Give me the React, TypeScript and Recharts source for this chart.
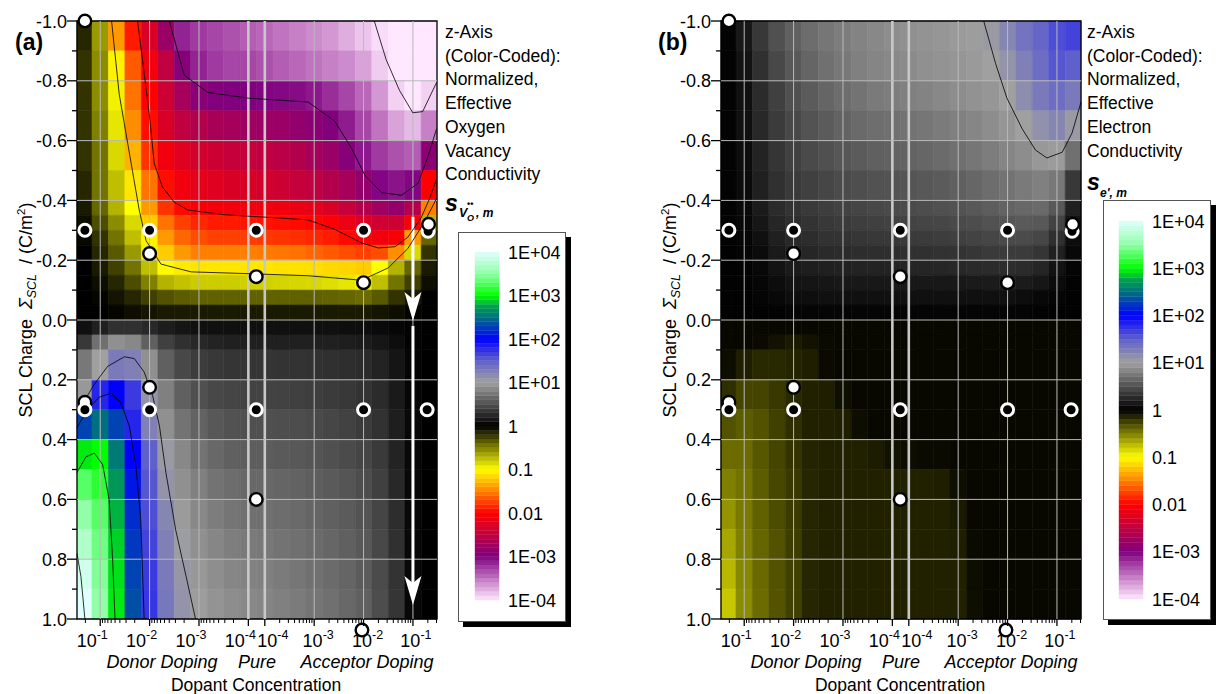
import React from 'react';
import { ScatterChart, Scatter, XAxis, YAxis, ReferenceArea, ReferenceLine, ReferenceDot } from 'recharts';

const FONT = '"Liberation Sans", Arial, Helvetica, sans-serif';

// Dopant axis in decades: donor 10^-1 at 0 … 10^-4 at 3, undoped gap, acceptor 10^-4 at 3.333 … 10^-1 at 6.333
const U_MIN = -0.47;
const U_MAX = 6.82;
const GAP_LO = 3;
const GAP_HI = 3.333;

const decadeTicks = [0, 1, 2, 3, 3.333, 4.333, 5.333, 6.333];
const decadeExponents = ['-1', '-2', '-3', '-4', '-4', '-3', '-2', '-1'];
const decadeLabelShift = [-8, -8, -8, -8, 8, 4, 4, 3];

const chargeTicks = [-1, -0.9, -0.8, -0.7, -0.6, -0.5, -0.4, -0.3, -0.2, -0.1, 0, 0.1, 0.2, 0.3, 0.4, 0.5, 0.6, 0.7, 0.8, 0.9, 1];
const chargeGrid = [-0.8, -0.6, -0.4, -0.2, 0, 0.2, 0.4, 0.6, 0.8];

// grid of the colour-coded maps: column centres (dopant decades) and row edges (SCL charge, C/m^2)
const dopantColumns = [-0.333, 0, 0.333, 0.667, 1, 1.333, 1.667, 2, 2.333, 2.667, 3, 3.333, 3.667, 4, 4.333, 4.667, 5, 5.333, 5.667, 6, 6.333, 6.667];
const chargeEdges = [-1, -0.9, -0.8, -0.7, -0.6, -0.5, -0.4, -0.35, -0.3, -0.25, -0.2, -0.15, -0.1, -0.05, 0, 0.05, 0.1, 0.2, 0.3, 0.4, 0.5, 0.6, 0.7, 0.8, 0.9, 1];

// log10 of the normalized effective oxygen vacancy conductivity, one row per charge band
const vacancyLogSigma: number[][] = [
  [-0.15, -0.6, -1.4, -1.9, -2.3, -2.8, -3.15, -3.25, -3.3, -3.35, -3.4, -3.45, -3.5, -3.55, -3.6, -3.65, -3.75, -3.85, -3.95, -4.1, -4.1, -4.1],
  [-0.2, -0.55, -1.05, -1.65, -2.1, -2.5, -2.95, -3.15, -3.25, -3.3, -3.3, -3.35, -3.4, -3.45, -3.5, -3.55, -3.6, -3.7, -3.88, -4.05, -4.1, -4.0],
  [-0.2, -0.55, -0.95, -1.55, -2.0, -2.4, -2.7, -2.92, -2.98, -3.0, -3.0, -3.02, -3.03, -3.05, -3.1, -3.2, -3.3, -3.45, -3.65, -3.9, -4.05, -3.9],
  [-0.2, -0.5, -0.9, -1.45, -1.95, -2.3, -2.5, -2.6, -2.68, -2.72, -2.75, -2.78, -2.8, -2.85, -2.9, -2.98, -3.12, -3.3, -3.5, -3.7, -3.8, -3.55],
  [-0.2, -0.45, -0.85, -1.3, -1.8, -2.1, -2.25, -2.35, -2.4, -2.45, -2.45, -2.5, -2.55, -2.6, -2.7, -2.8, -2.95, -3.1, -3.25, -3.35, -3.4, -2.9],
  [-0.15, -0.45, -0.75, -1.1, -1.55, -1.95, -2.1, -2.2, -2.25, -2.3, -2.3, -2.35, -2.4, -2.45, -2.5, -2.6, -2.7, -2.85, -3.02, -3.08, -3.02, -2.0],
  [-0.1, -0.4, -0.7, -1.0, -1.4, -1.8, -1.97, -2.05, -2.08, -2.1, -2.1, -2.1, -2.12, -2.15, -2.2, -2.3, -2.45, -2.6, -2.75, -2.85, -2.6, -1.5],
  [-0.05, -0.3, -0.55, -0.85, -1.2, -1.55, -1.75, -1.85, -1.9, -1.9, -1.92, -1.93, -1.95, -1.96, -1.98, -2.03, -2.15, -2.28, -2.38, -2.4, -2.05, -0.7],
  [-0.03, -0.2, -0.45, -0.75, -1.05, -1.4, -1.6, -1.7, -1.75, -1.75, -1.76, -1.78, -1.8, -1.82, -1.85, -1.9, -1.97, -2.05, -2.1, -2.05, -1.4, -0.4],
  [0, -0.15, -0.35, -0.6, -0.95, -1.2, -1.4, -1.5, -1.5, -1.5, -1.5, -1.52, -1.54, -1.56, -1.6, -1.65, -1.7, -1.75, -1.7, -1.45, -0.85, -0.2],
  [0, -0.1, -0.25, -0.45, -0.75, -1.02, -1.08, -1.1, -1.1, -1.1, -1.1, -1.1, -1.12, -1.12, -1.13, -1.15, -1.17, -1.2, -1.0, -0.7, -0.4, -0.1],
  [0, -0.05, -0.15, -0.3, -0.5, -0.7, -0.76, -0.8, -0.8, -0.8, -0.82, -0.82, -0.83, -0.84, -0.85, -0.87, -0.9, -0.95, -0.75, -0.45, -0.25, -0.05],
  [0, -0.02, -0.08, -0.15, -0.25, -0.32, -0.36, -0.38, -0.38, -0.38, -0.38, -0.38, -0.38, -0.38, -0.38, -0.39, -0.4, -0.42, -0.35, -0.2, -0.1, 0],
  [0, 0, -0.02, -0.05, -0.08, -0.1, -0.1, -0.1, -0.1, -0.1, -0.1, -0.1, -0.1, -0.1, -0.1, -0.1, -0.1, -0.1, -0.08, -0.05, -0.02, 0],
  [0.1, 0.2, 0.3, 0.3, 0.25, 0.18, 0.13, 0.1, 0.1, 0.1, 0.1, 0.1, 0.1, 0.1, 0.1, 0.1, 0.09, 0.08, 0.06, 0.04, 0.02, 0],
  [0.35, 0.7, 0.9, 0.85, 0.6, 0.4, 0.3, 0.25, 0.22, 0.2, 0.2, 0.2, 0.2, 0.2, 0.2, 0.2, 0.19, 0.17, 0.14, 0.08, 0.02, 0],
  [0.75, 1.0, 1.3, 1.25, 0.9, 0.6, 0.45, 0.38, 0.35, 0.33, 0.33, 0.33, 0.32, 0.32, 0.31, 0.3, 0.29, 0.27, 0.22, 0.13, 0.03, 0],
  [0.95, 1.8, 2.0, 1.7, 1.1, 0.8, 0.6, 0.5, 0.45, 0.43, 0.42, 0.42, 0.41, 0.4, 0.39, 0.37, 0.35, 0.32, 0.27, 0.16, 0.04, 0],
  [2.3, 2.5, 2.3, 1.8, 1.25, 0.9, 0.72, 0.62, 0.55, 0.51, 0.5, 0.5, 0.49, 0.48, 0.46, 0.44, 0.41, 0.37, 0.31, 0.19, 0.05, 0],
  [2.95, 3.0, 2.55, 2.0, 1.5, 1.05, 0.85, 0.72, 0.65, 0.6, 0.58, 0.58, 0.56, 0.55, 0.53, 0.5, 0.47, 0.43, 0.36, 0.22, 0.05, 0],
  [3.3, 3.15, 2.7, 2.1, 1.55, 1.1, 0.9, 0.8, 0.72, 0.68, 0.65, 0.65, 0.63, 0.61, 0.59, 0.56, 0.53, 0.48, 0.4, 0.25, 0.05, 0],
  [3.5, 3.3, 2.8, 2.2, 1.6, 1.2, 0.97, 0.85, 0.78, 0.73, 0.7, 0.7, 0.68, 0.66, 0.63, 0.6, 0.57, 0.52, 0.43, 0.28, 0.05, 0],
  [3.7, 3.38, 2.88, 2.25, 1.65, 1.25, 1.03, 0.9, 0.84, 0.79, 0.76, 0.75, 0.72, 0.7, 0.67, 0.64, 0.6, 0.55, 0.45, 0.3, 0.05, 0],
  [3.9, 3.45, 2.92, 2.3, 1.7, 1.3, 1.08, 0.95, 0.89, 0.84, 0.81, 0.8, 0.77, 0.74, 0.7, 0.67, 0.63, 0.57, 0.47, 0.32, 0.05, 0],
  [4.0, 3.5, 2.95, 2.35, 1.72, 1.32, 1.1, 0.98, 0.92, 0.88, 0.85, 0.83, 0.8, 0.77, 0.73, 0.7, 0.65, 0.6, 0.48, 0.33, 0.05, 0],
];

// log10 of the normalized effective electron conductivity
const electronLogSigma: number[][] = [
  [0.02, 0.15, 0.35, 0.5, 0.6, 0.68, 0.74, 0.78, 0.82, 0.85, 0.88, 0.9, 0.92, 0.94, 0.96, 0.98, 1.05, 1.2, 1.35, 1.45, 1.6, 1.65],
  [0.02, 0.12, 0.3, 0.45, 0.55, 0.63, 0.7, 0.75, 0.8, 0.83, 0.85, 0.87, 0.9, 0.92, 0.94, 0.96, 1.0, 1.1, 1.25, 1.4, 1.55, 1.5],
  [0.02, 0.1, 0.27, 0.4, 0.5, 0.57, 0.63, 0.68, 0.72, 0.76, 0.78, 0.8, 0.82, 0.85, 0.88, 0.91, 0.94, 1.0, 1.15, 1.3, 1.4, 1.3],
  [0.02, 0.1, 0.25, 0.37, 0.45, 0.52, 0.57, 0.62, 0.66, 0.69, 0.7, 0.72, 0.74, 0.77, 0.8, 0.84, 0.88, 0.93, 1.0, 1.12, 1.2, 1.05],
  [0.02, 0.08, 0.22, 0.33, 0.4, 0.46, 0.5, 0.54, 0.57, 0.6, 0.61, 0.62, 0.64, 0.67, 0.7, 0.74, 0.78, 0.83, 0.88, 0.95, 0.97, 0.7],
  [0.02, 0.07, 0.2, 0.3, 0.36, 0.4, 0.44, 0.47, 0.49, 0.51, 0.52, 0.53, 0.55, 0.57, 0.6, 0.64, 0.68, 0.72, 0.76, 0.8, 0.75, 0.35],
  [0.02, 0.06, 0.17, 0.27, 0.32, 0.36, 0.39, 0.41, 0.43, 0.45, 0.46, 0.47, 0.48, 0.5, 0.52, 0.55, 0.58, 0.62, 0.65, 0.66, 0.55, 0.2],
  [0.02, 0.05, 0.14, 0.24, 0.29, 0.32, 0.35, 0.37, 0.39, 0.4, 0.41, 0.42, 0.43, 0.44, 0.46, 0.48, 0.51, 0.54, 0.56, 0.55, 0.42, 0.12],
  [0.02, 0.04, 0.1, 0.2, 0.25, 0.28, 0.31, 0.32, 0.34, 0.35, 0.35, 0.36, 0.37, 0.38, 0.4, 0.42, 0.44, 0.46, 0.47, 0.44, 0.3, 0.08],
  [0.01, 0.03, 0.07, 0.16, 0.21, 0.24, 0.26, 0.27, 0.28, 0.29, 0.29, 0.3, 0.3, 0.31, 0.32, 0.34, 0.36, 0.37, 0.37, 0.33, 0.2, 0.05],
  [0.01, 0.02, 0.05, 0.12, 0.17, 0.19, 0.2, 0.21, 0.22, 0.22, 0.22, 0.23, 0.23, 0.24, 0.25, 0.26, 0.27, 0.28, 0.27, 0.23, 0.12, 0.03],
  [0.01, 0.02, 0.04, 0.08, 0.12, 0.13, 0.14, 0.15, 0.15, 0.15, 0.15, 0.15, 0.15, 0.15, 0.15, 0.16, 0.17, 0.18, 0.17, 0.14, 0.07, 0.02],
  [0.01, 0.01, 0.03, 0.05, 0.08, 0.09, 0.1, 0.1, 0.1, 0.1, 0.1, 0.1, 0.1, 0.1, 0.1, 0.1, 0.1, 0.1, 0.08, 0.05, 0.03, 0.01],
  [0.01, 0.01, 0.01, 0.02, 0.03, 0.03, 0.03, 0.03, 0.03, 0.03, 0.03, 0.03, 0.03, 0.03, 0.03, 0.03, 0.03, 0.03, 0.03, 0.02, 0.01, 0.01],
  [-0.03, -0.03, -0.03, -0.03, -0.03, -0.03, -0.03, -0.03, -0.03, -0.03, -0.03, -0.03, -0.03, -0.03, -0.03, -0.03, -0.03, -0.03, -0.03, -0.03, -0.03, -0.03],
  [-0.03, -0.03, -0.04, -0.07, -0.1, -0.07, -0.04, -0.03, -0.03, -0.03, -0.03, -0.03, -0.03, -0.03, -0.03, -0.03, -0.03, -0.03, -0.03, -0.03, -0.03, -0.03],
  [-0.05, -0.12, -0.16, -0.16, -0.14, -0.12, -0.04, -0.03, -0.03, -0.03, -0.03, -0.03, -0.03, -0.03, -0.03, -0.03, -0.03, -0.03, -0.03, -0.03, -0.03, -0.03],
  [-0.18, -0.27, -0.27, -0.22, -0.16, -0.13, -0.12, -0.06, -0.03, -0.03, -0.03, -0.03, -0.03, -0.03, -0.03, -0.03, -0.03, -0.03, -0.03, -0.03, -0.03, -0.03],
  [-0.32, -0.36, -0.32, -0.25, -0.18, -0.13, -0.13, -0.12, -0.05, -0.03, -0.03, -0.03, -0.03, -0.03, -0.03, -0.03, -0.03, -0.03, -0.03, -0.03, -0.03, -0.03],
  [-0.42, -0.42, -0.34, -0.27, -0.2, -0.14, -0.13, -0.13, -0.13, -0.11, -0.07, -0.05, -0.04, -0.04, -0.03, -0.03, -0.03, -0.03, -0.03, -0.03, -0.03, -0.03],
  [-0.5, -0.45, -0.36, -0.28, -0.22, -0.15, -0.13, -0.13, -0.13, -0.13, -0.13, -0.13, -0.13, -0.12, -0.06, -0.03, -0.03, -0.03, -0.03, -0.03, -0.03, -0.03],
  [-0.58, -0.48, -0.38, -0.3, -0.23, -0.15, -0.13, -0.13, -0.13, -0.13, -0.13, -0.13, -0.13, -0.13, -0.1, -0.03, -0.03, -0.03, -0.03, -0.03, -0.03, -0.03],
  [-0.65, -0.5, -0.4, -0.32, -0.24, -0.15, -0.13, -0.13, -0.13, -0.13, -0.13, -0.13, -0.13, -0.13, -0.12, -0.04, -0.03, -0.03, -0.03, -0.03, -0.03, -0.03],
  [-0.72, -0.53, -0.41, -0.32, -0.25, -0.15, -0.13, -0.13, -0.13, -0.13, -0.13, -0.13, -0.13, -0.13, -0.13, -0.05, -0.03, -0.03, -0.03, -0.03, -0.03, -0.03],
  [-0.78, -0.55, -0.42, -0.33, -0.25, -0.15, -0.13, -0.13, -0.13, -0.13, -0.13, -0.13, -0.13, -0.13, -0.13, -0.06, -0.03, -0.03, -0.03, -0.03, -0.03, -0.03],
];

// iso-lines [decade, charge]
const vacancyIsoM1 = [[0.23, -1.0], [0.385, -0.755], [0.655, -0.497], [0.79, -0.368], [0.93, -0.265], [1.23, -0.187], [1.84, -0.161], [3.0, -0.155], [4.21, -0.148], [5.29, -0.133], [5.83, -0.174], [6.23, -0.239], [6.57, -0.329], [6.81, -0.406]];
const vacancyIsoM2 = [[0.757, -1.0], [0.993, -0.69], [1.095, -0.523], [1.26, -0.445], [1.5, -0.394], [1.77, -0.368], [2.51, -0.352], [3.53, -0.342], [4.21, -0.335], [4.75, -0.303], [5.29, -0.258], [5.63, -0.241], [5.97, -0.245], [6.23, -0.277], [6.5, -0.342], [6.67, -0.406], [6.81, -0.471]];
const vacancyIsoM3 = [[1.4, -1.0], [1.7, -0.819], [2.18, -0.761], [3.0, -0.742], [4.21, -0.729], [4.75, -0.665], [5.09, -0.574], [5.36, -0.484], [5.7, -0.426], [6.1, -0.417], [6.44, -0.458], [6.64, -0.548], [6.81, -0.639]];
const vacancyIsoM4 = [[5.55, -1.0], [5.79, -0.871], [6.06, -0.768], [6.33, -0.693], [6.53, -0.697], [6.81, -0.794]];
const vacancyIsoP1 = [[-0.47, 0.31], [-0.32, 0.27], [-0.12, 0.215], [0.15, 0.155], [0.49, 0.123], [0.69, 0.129], [0.89, 0.174], [1.06, 0.252], [1.2, 0.355], [1.33, 0.51], [1.53, 0.703], [1.74, 0.858], [1.93, 1.0]];
const vacancyIsoP2 = [[-0.47, 0.36], [-0.26, 0.3], [-0.02, 0.258], [0.22, 0.245], [0.42, 0.277], [0.59, 0.355], [0.72, 0.484], [0.82, 0.665], [0.89, 1.0]];
const vacancyIsoP3 = [[-0.47, 0.51], [-0.29, 0.458], [-0.12, 0.445], [0.05, 0.484], [0.18, 0.6], [0.25, 0.794], [0.3, 1.0]];
const vacancyIsoP4 = [[-0.47, 0.781], [-0.39, 0.858], [-0.31, 1.0]];
const electronIsoP1 = [[4.85, -1.0], [5.09, -0.858], [5.32, -0.742], [5.63, -0.639], [5.9, -0.568], [6.13, -0.542], [6.44, -0.561], [6.64, -0.626], [6.82, -0.729]];

// calculated states [decade, charge]
const ringStates = [[-0.31, -0.3], [1.0, -0.3], [3.16, -0.3], [5.333, -0.3], [6.64, -0.297], [-0.31, 0.3], [1.0, 0.3], [3.16, 0.3], [5.333, 0.3], [6.62, 0.3]];
const openStatesBehind = [[-0.31, 0.275]];
const openStates = [[-0.31, -1.0], [1.0, -0.222], [3.16, -0.145], [5.333, -0.125], [6.65, -0.32], [1.0, 0.225], [3.16, 0.6]];
const openStateBelowAxis = [5.3, 1.037];

// path arrows drawn at acceptor 10^-1 in the vacancy map
const arrowRuns = [{ u: 6.333, from: -0.345, to: 0.0 }, { u: 6.333, from: 0.02, to: 0.95 }];

// colour scale: decades of the z value and their labels
const colorTickValues = [-4, -3, -2, -1, 0, 1, 2, 3, 4];
const colorTickLabels = ['1E-04', '1E-03', '0.01', '0.1', '1', '1E+01', '1E+02', '1E+03', '1E+04'];
const COLOR_STEP = 0.1;

const COLOR_STOPS: Array<[number, [number, number, number]]> = [
  [-4, [255, 232, 255]], [-3, [128, 0, 128]], [-2.5, [192, 0, 64]], [-2, [255, 0, 0]], [-1.5, [255, 128, 0]],
  [-1, [255, 255, 0]], [0, [0, 0, 0]], [1, [160, 160, 160]], [1.5, [96, 96, 204]], [2, [0, 0, 255]],
  [2.5, [0, 112, 128]], [2.75, [0, 160, 80]], [3, [0, 255, 0]], [3.5, [144, 255, 168]], [4, [224, 255, 255]],
];

function zColor(v: number): string {
  const x = Math.max(-4, Math.min(4, v));
  for (let i = 0; i < COLOR_STOPS.length - 1; i++) {
    const [a, ca] = COLOR_STOPS[i];
    const [b, cb] = COLOR_STOPS[i + 1];
    if (x >= a && x <= b) {
      const t = (x - a) / (b - a);
      const c = ca.map((q, k) => Math.round(q + (cb[k] - q) * t));
      return `rgb(${c[0]},${c[1]},${c[2]})`;
    }
  }
  return '#000';
}

const toPts = (arr: number[][]) => arr.map(([u, y]) => ({ u, y }));

// logarithmic minor ticks between the decades
const minorTicks: number[] = (() => {
  const out: number[] = [];
  for (let n = 0; n <= 3; n++) {
    for (let k = 2; k <= 9; k++) {
      const u = n - Math.log10(k);
      if (u > U_MIN && u < GAP_LO) out.push(u);
    }
  }
  for (let m = 0; m <= 3; m++) {
    for (let k = 2; k <= 9; k++) {
      const u = GAP_HI + m + Math.log10(k);
      if (u < U_MAX) out.push(u);
    }
  }
  return out;
})();
const allDopantTicks = [...decadeTicks, ...minorTicks];

function DopantTick(props: any) {
  const { x, y, payload } = props;
  const i = decadeTicks.findIndex((t) => Math.abs(t - payload.value) < 1e-6);
  if (i < 0) return <line x1={x} y1={y} x2={x} y2={y + 4} stroke="#000" strokeWidth={1} />;
  return (
    <g>
      <line x1={x} y1={y} x2={x} y2={y + 7} stroke="#000" strokeWidth={1.3} />
      <text x={x + decadeLabelShift[i]} y={y + 28} textAnchor="middle" fontSize={18} fill="#000" fontFamily={FONT}>
        10<tspan dy={-8} fontSize={12.5}>{decadeExponents[i]}</tspan>
      </text>
    </g>
  );
}

function ChargeTick(props: any) {
  const { x, y, payload } = props;
  const v = payload.value as number;
  const major = Math.abs(v * 5 - Math.round(v * 5)) < 1e-6;
  if (!major) return <line x1={x - 5} y1={y} x2={x} y2={y} stroke="#000" strokeWidth={1.3} />;
  return (
    <g>
      <line x1={x - 10} y1={y} x2={x} y2={y} stroke="#000" strokeWidth={1.3} />
      <text x={x - 10} y={y + 6.5} textAnchor="end" fontSize={18} fill="#000" fontFamily={FONT}>{v.toFixed(1)}</text>
    </g>
  );
}

const NoMark = () => <g />;
const RingDot = (p: any) => <circle cx={p.cx} cy={p.cy} r={6} fill="#000" stroke="#fff" strokeWidth={3} />;
const OpenDot = (p: any) => <circle cx={p.cx} cy={p.cy} r={6.3} fill="#fff" stroke="#000" strokeWidth={2.4} />;
const ArrowHead = (p: any) => (
  <polygon points={`${p.cx},${p.cy + 1} ${p.cx - 8.5},${p.cy - 28} ${p.cx},${p.cy - 21} ${p.cx + 8.5},${p.cy - 28}`} fill="#fff" />
);

function heatCells(grid: number[][], tag: string) {
  const out: React.ReactNode[] = [];
  for (let r = 0; r < grid.length; r++) {
    const y1 = chargeEdges[r];
    const y2 = chargeEdges[r + 1];
    for (let c = 0; c < dopantColumns.length; c++) {
      const x1 = c === 0 ? U_MIN : (dopantColumns[c - 1] + dopantColumns[c]) / 2;
      const x2 = c === dopantColumns.length - 1 ? U_MAX : (dopantColumns[c] + dopantColumns[c + 1]) / 2;
      const col = zColor(grid[r][c]);
      out.push(
        <ReferenceArea key={`${tag}-${r}-${c}`} x1={x1} x2={x2} y1={y1} y2={y2} fill={col} fillOpacity={1} stroke={col} strokeWidth={0.6} ifOverflow="visible" />
      );
    }
  }
  return out;
}

function Panel({ left, grid, iso, tag, arrows }: { left: number; grid: number[][]; iso: number[][][]; tag: string; arrows?: boolean }) {
  return (
    <div style={{ position: 'absolute', left, top: 0 }}>
      <ScatterChart width={440} height={660} margin={{ top: 21, right: 3, bottom: 11, left: 17 }}>
        <XAxis type="number" dataKey="u" domain={[U_MIN, U_MAX]} ticks={allDopantTicks} interval={0} tick={DopantTick} tickLine={false} axisLine={false} tickSize={0} tickMargin={0} height={30} />
        <YAxis type="number" dataKey="y" domain={[-1, 1]} reversed ticks={chargeTicks} interval={0} tick={ChargeTick} tickLine={false} axisLine={false} tickSize={0} tickMargin={0} width={60} />
        {heatCells(grid, tag)}
        {iso.map((line, i) => (
          <Scatter key={`iso-${i}`} data={toPts(line)} line={{ stroke: '#000', strokeWidth: 0.8 }} shape={NoMark} isAnimationActive={false} />
        ))}
        {decadeTicks.map((t, i) => {
          const gap = Math.abs(t - GAP_LO) < 1e-6 || Math.abs(t - GAP_HI) < 1e-6;
          return <ReferenceLine key={`gx-${i}`} x={t} stroke={gap ? '#c8c8c8' : '#b9b9b9'} strokeWidth={gap ? 2.6 : 1} ifOverflow="visible" />;
        })}
        {chargeGrid.map((v, i) => (
          <ReferenceLine key={`gy-${i}`} y={v} stroke="#b9b9b9" strokeWidth={1} ifOverflow="visible" />
        ))}
        {arrows && arrowRuns.map((a, i) => (
          <ReferenceLine key={`ar-${i}`} segment={[{ x: a.u, y: a.from }, { x: a.u, y: a.to - 0.03 }]} stroke="#fff" strokeWidth={3} ifOverflow="visible" />
        ))}
        {arrows && arrowRuns.map((a, i) => (
          <ReferenceDot key={`ah-${i}`} x={a.u} y={a.to} r={1} shape={ArrowHead} ifOverflow="visible" />
        ))}
        <Scatter data={toPts(openStatesBehind)} shape={OpenDot} isAnimationActive={false} />
        <Scatter data={toPts(ringStates)} shape={RingDot} isAnimationActive={false} />
        <Scatter data={toPts(openStates)} shape={OpenDot} isAnimationActive={false} />
        <ReferenceDot x={openStateBelowAxis[0]} y={openStateBelowAxis[1]} r={6.3} fill="#fff" stroke="#000" strokeWidth={2.4} ifOverflow="visible" />
        <ReferenceArea x1={U_MIN} x2={U_MAX} y1={-1} y2={1} fill="none" fillOpacity={0} stroke="#000" strokeWidth={1.3} ifOverflow="visible" />
      </ScatterChart>
    </div>
  );
}

function ColorTick(props: any) {
  const { x, y, payload } = props;
  const i = colorTickValues.indexOf(payload.value);
  return (
    <text x={x} y={y + 6.5} textAnchor="start" fontSize={18} fill="#000" fontFamily={FONT}>{colorTickLabels[i]}</text>
  );
}

// colour levels of the scale, one per band
const colorLevels = (() => {
  const out: { x: number; v: number; lo: number; hi: number }[] = [];
  const n = Math.round(8 / COLOR_STEP);
  for (let i = 0; i < n; i++) {
    const lo = -4 + i * COLOR_STEP;
    out.push({ x: 0.5, v: lo + COLOR_STEP / 2, lo, hi: lo + COLOR_STEP });
  }
  return out;
})();

function ColorBar({ box, strip }: { box: { x: number; y: number; w: number; h: number }; strip: { x: number; y: number; h: number } }) {
  return (
    <>
      <div style={{ position: 'absolute', left: box.x, top: box.y, width: box.w, height: box.h, border: '1px solid #555', background: '#fff', boxShadow: '5px 5px 0 #000', boxSizing: 'border-box' }} />
      <div style={{ position: 'absolute', left: strip.x - 5, top: strip.y - 12 }}>
        <ScatterChart width={104} height={strip.h + 24} margin={{ top: 12, right: 0, bottom: 12, left: 5 }}>
          <XAxis type="number" dataKey="x" domain={[0, 1]} hide />
          <YAxis type="number" dataKey="v" orientation="right" domain={[-4, 4]} ticks={colorTickValues} interval={0} tick={ColorTick} tickLine={false} axisLine={false} tickSize={0} tickMargin={9} width={75} />
          {colorLevels.map((b, i) => {
            const col = zColor(b.v);
            return <ReferenceArea key={`b-${i}`} x1={0} x2={1} y1={b.lo} y2={b.hi} fill={col} fillOpacity={1} stroke={col} strokeWidth={0.4} ifOverflow="visible" />;
          })}
          <Scatter data={colorLevels} shape={NoMark} isAnimationActive={false} />
        </ScatterChart>
      </div>
    </>
  );
}

const vacancyText = ['z-Axis', '(Color-Coded):', 'Normalized,', 'Effective', 'Oxygen', 'Vacancy', 'Conductivity'];
const electronText = ['z-Axis', '(Color-Coded):', 'Normalized,', 'Effective', 'Electron', 'Conductivity'];

function AxisTitles({ dx }: { dx: number }) {
  const cx = 32 + dx;
  return (
    <g>
      <text transform={`rotate(-90 ${cx} 310)`} x={cx} y={310} textAnchor="middle" fontSize={18} fill="#000">
        SCL Charge{'\u00a0\u00a0'}
        <tspan fontStyle="italic">Σ</tspan>
        <tspan fontStyle="italic" fontSize={12.5} dy={4}>SCL</tspan>
        <tspan dy={-4}>{'\u00a0\u00a0/ (C/m'}</tspan>
        <tspan fontSize={11.5} dy={-7}>2</tspan>
        <tspan dy={7}>)</tspan>
      </text>
      <text x={162 + dx} y={668} textAnchor="middle" fontSize={18} fontStyle="italic">Donor Doping</text>
      <text x={257 + dx} y={668} textAnchor="middle" fontSize={18} fontStyle="italic">Pure</text>
      <text x={367 + dx} y={668} textAnchor="middle" fontSize={18} fontStyle="italic">Acceptor Doping</text>
      <text x={256 + dx} y={691} textAnchor="middle" fontSize={17.5}>Dopant Concentration</text>
    </g>
  );
}

export default function App() {
  return (
    <div style={{ position: 'absolute', left: 0, top: 0, width: 1220, height: 694, background: '#fff', fontFamily: FONT, overflow: 'hidden' }}>
      <Panel left={0} grid={vacancyLogSigma} tag="a" arrows
        iso={[vacancyIsoM1, vacancyIsoM2, vacancyIsoM3, vacancyIsoM4, vacancyIsoP1, vacancyIsoP2, vacancyIsoP3, vacancyIsoP4]} />
      <Panel left={644} grid={electronLogSigma} tag="b" iso={[electronIsoP1]} />
      <ColorBar box={{ x: 458, y: 232, w: 108, h: 390 }} strip={{ x: 475, y: 252, h: 348 }} />
      <ColorBar box={{ x: 1103, y: 200, w: 108, h: 420 }} strip={{ x: 1119, y: 221, h: 378 }} />
      <svg width={1220} height={694} style={{ position: 'absolute', left: 0, top: 0, pointerEvents: 'none' }} fontFamily={FONT}>
        <text x={15} y={50} fontSize={23} fontWeight="bold">(a)</text>
        <text x={658} y={50} fontSize={23} fontWeight="bold">(b)</text>
        <AxisTitles dx={0} />
        <AxisTitles dx={644} />
        {vacancyText.map((t, i) => (
          <text key={`va-${i}`} x={445} y={38 + i * 23.7} fontSize={17.5}>{t}</text>
        ))}
        {electronText.map((t, i) => (
          <text key={`el-${i}`} x={1087} y={38 + i * 23.7} fontSize={17.5}>{t}</text>
        ))}
        <text x={445} y={211} fontSize={23} fontWeight="bold" fontStyle="italic">s</text>
        <text x={459} y={217} fontSize={12.5} fontWeight="bold" fontStyle="italic">V</text>
        <text x={467} y={221} fontSize={9} fontWeight="bold" fontStyle="italic">O</text>
        <text x={467} y={207} fontSize={9} fontWeight="bold">••</text>
        <text x={476} y={217} fontSize={12} fontWeight="bold" fontStyle="italic">, m</text>
        <text x={1087} y={190} fontSize={23} fontWeight="bold" fontStyle="italic">s</text>
        <text x={1100} y={197} fontSize={12} fontWeight="bold" fontStyle="italic">{"e', m"}</text>
      </svg>
    </div>
  );
}
